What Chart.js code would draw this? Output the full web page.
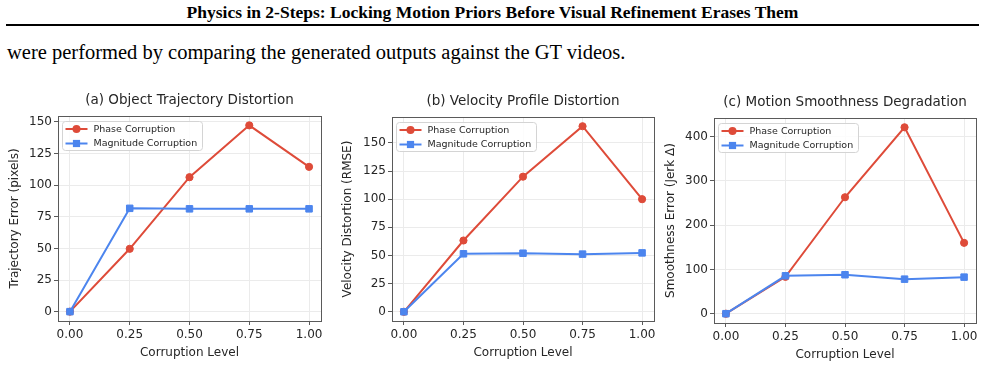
<!DOCTYPE html>
<html>
<head>
<meta charset="utf-8">
<script src="https://cdn.jsdelivr.net/npm/chart.js@4.4.1/dist/chart.umd.min.js"></script>
<style>
  html, body { margin: 0; padding: 0; background: #fff; }
  body { width: 985px; height: 377px; position: relative; overflow: hidden; }
  .running-head {
    position: absolute; left: 0; top: 2px; width: 985px; text-align: center;
    font: bold 17.5px "Liberation Serif", serif; line-height: 20px; color: #000;
  }
  .head-rule { position: absolute; left: 6px; top: 24px; width: 973px; height: 2px; background: #000; }
  .body-line {
    position: absolute; left: 7px; top: 41px; white-space: nowrap;
    font: 20.5px "Liberation Serif", serif; line-height: 23px; color: #000;
  }
  canvas { position: absolute; }
</style>
</head>
<body>
<div class="running-head">Physics in 2-Steps: Locking Motion Priors Before Visual Refinement Erases Them</div>
<div class="head-rule"></div>
<div class="body-line">were performed by comparing the generated outputs against the GT videos.</div>

<canvas id="chart-traj"></canvas>
<canvas id="chart-vel"></canvas>
<canvas id="chart-smooth"></canvas>

<script>
/* =========================================
   DATA
   ========================================= */
const corruptionLevels = [0, 0.25, 0.5, 0.75, 1.0];
const xTickValues = [0, 0.25, 0.5, 0.75, 1.0];
const seriesLabels = ['Phase Corruption', 'Magnitude Corruption'];

const trajPhase = [0, 49.7, 106.3, 147.3, 114.5];
const trajMagnitude = [0, 81.7, 81.3, 81.3, 81.3];
const trajTicks = [0, 25, 50, 75, 100, 125, 150];

const velPhase = [0, 63.3, 120, 164.8, 100];
const velMagnitude = [0, 51.5, 52, 51.2, 52.3];
const velTicks = [0, 25, 50, 75, 100, 125, 150];

const smoothPhase = [0, 83.3, 263, 421, 160];
const smoothMagnitude = [0, 85.6, 88, 78, 82.6];
const smoothTicks = [0, 100, 200, 300, 400];

/* =========================================
   STYLE
   ========================================= */
const FONT = '"DejaVu Sans", sans-serif';
const TEXT_COLOR = '#262626';
const FRAME_COLOR = '#5a5a5a';
const GRID_COLOR = '#ebebeb';
const PHASE_COLOR = '#de4b39';
const MAGNITUDE_COLOR = '#4c85ee';
const X_AXIS_H = 39;

// kotak legend + bingkai 4 sisi ala matplotlib
const frameAndLegend = {
    id: 'frameAndLegend',
    afterDraw(chart) {
        const { ctx, chartArea: a } = chart;
        ctx.save();
        ctx.strokeStyle = FRAME_COLOR;
        ctx.lineWidth = 1;
        ctx.strokeRect(Math.round(a.left) + 0.5, Math.round(a.top) + 0.5,
            Math.round(a.right - a.left), Math.round(a.bottom - a.top));

        ctx.font = '9.5px ' + FONT;
        const sets = chart.data.datasets;
        const textW = Math.max(...sets.map(d => ctx.measureText(d.label).width));
        const bx = Math.round(a.left) + 4.5;
        const by = Math.round(a.top) + 5.5;
        const bw = Math.round(31 + textW + 5);
        const bh = 29;

        ctx.beginPath();
        ctx.roundRect(bx, by, bw, bh, 3);
        ctx.fillStyle = 'rgba(255,255,255,0.85)';
        ctx.fill();
        ctx.strokeStyle = '#d4d4d4';
        ctx.stroke();

        sets.forEach((d, i) => {
            const y = by + 7.5 + i * 14.5;
            ctx.strokeStyle = d.borderColor;
            ctx.lineWidth = 2;
            ctx.beginPath();
            ctx.moveTo(bx + 3, y);
            ctx.lineTo(bx + 25, y);
            ctx.stroke();
            ctx.fillStyle = d.borderColor;
            ctx.beginPath();
            if (d.pointStyle === 'rect') {
                ctx.rect(bx + 14 - 3.6, y - 3.6, 7.2, 7.2);
            } else {
                ctx.arc(bx + 14, y, 4, 0, Math.PI * 2);
            }
            ctx.fill();
            ctx.fillStyle = TEXT_COLOR;
            ctx.textBaseline = 'middle';
            ctx.textAlign = 'left';
            ctx.fillText(d.label, bx + 31, y + 0.5);
        });
        ctx.restore();
    }
};

function toPoints(values) {
    return corruptionLevels.map((x, i) => ({ x: x, y: values[i] }));
}

function makeDataset(label, values, color, style, order) {
    return {
        label: label,
        data: toPoints(values),
        borderColor: color,
        backgroundColor: color,
        pointBackgroundColor: color,
        pointBorderColor: color,
        pointBorderWidth: 1,
        borderWidth: 2,
        pointStyle: style,
        pointRadius: style === 'rect' ? 4.6 : 3.6,
        tension: 0,
        order: order
    };
}

/* =========================================
   CHART BUILDER
   ========================================= */
function buildPanel(spec) {
    const canvas = document.getElementById(spec.id);
    const areaH = spec.areaBottom - spec.areaTop;
    const width = spec.areaRight + 9 - spec.left;
    const height = 32 + areaH + X_AXIS_H;
    canvas.width = width;
    canvas.height = height;
    canvas.style.left = spec.left + 'px';
    canvas.style.top = (spec.areaTop - 32) + 'px';

    return new Chart(canvas, {
        type: 'line',
        data: {
            datasets: [
                makeDataset(seriesLabels[0], spec.phase, PHASE_COLOR, 'circle', 1),
                makeDataset(seriesLabels[1], spec.magnitude, MAGNITUDE_COLOR, 'rect', 0)
            ]
        },
        options: {
            responsive: false,
            animation: false,
            devicePixelRatio: 1,
            events: [],
            layout: { padding: { left: 0, right: 9, top: 0, bottom: 0 } },
            plugins: {
                legend: { display: false },
                tooltip: { enabled: false },
                title: {
                    display: true,
                    text: spec.title,
                    fullSize: false,
                    color: TEXT_COLOR,
                    font: { family: FONT, size: 13.5, weight: 'normal' },
                    padding: { top: 8, bottom: 7.8 }
                }
            },
            scales: {
                x: {
                    type: 'linear',
                    min: -0.05,
                    max: 1.05,
                    afterBuildTicks: s => { s.ticks = xTickValues.map(v => ({ value: v })); },
                    afterFit: s => { s.height = X_AXIS_H; },
                    ticks: {
                        color: TEXT_COLOR,
                        font: { family: FONT, size: 12 },
                        padding: 3,
                        maxRotation: 0,
                        callback: v => v.toFixed(2)
                    },
                    grid: { color: GRID_COLOR, tickColor: FRAME_COLOR, tickLength: 4 },
                    border: { display: false },
                    title: {
                        display: true,
                        text: 'Corruption Level',
                        color: TEXT_COLOR,
                        font: { family: FONT, size: 12 },
                        padding: { top: 0, bottom: 0 }
                    }
                },
                y: {
                    type: 'linear',
                    min: spec.yMin,
                    max: spec.yMax,
                    afterBuildTicks: s => { s.ticks = spec.yTicks.map(v => ({ value: v })); },
                    afterFit: s => { s.width = spec.yAxisW; },
                    ticks: {
                        color: TEXT_COLOR,
                        font: { family: FONT, size: 12 },
                        padding: 2,
                        callback: v => String(v)
                    },
                    grid: { color: GRID_COLOR, tickColor: FRAME_COLOR, tickLength: 4 },
                    border: { display: false },
                    title: {
                        display: true,
                        text: spec.yTitle,
                        color: TEXT_COLOR,
                        font: { family: FONT, size: 12 },
                        padding: { top: spec.yTitlePad, bottom: 0 }
                    }
                }
            }
        },
        plugins: [frameAndLegend]
    });
}

/* =========================================
   INIT
   ========================================= */
document.addEventListener('DOMContentLoaded', function() {
    buildPanel({
        id: 'chart-traj', title: '(a) Object Trajectory Distortion',
        yTitle: 'Trajectory Error (pixels)',
        phase: trajPhase, magnitude: trajMagnitude, yTicks: trajTicks,
        yMin: -7.4, yMax: 154.7,
        left: 0, yAxisW: 58, yTitlePad: 8, areaRight: 321, areaTop: 116, areaBottom: 321
    });
    buildPanel({
        id: 'chart-vel', title: '(b) Velocity Profile Distortion',
        yTitle: 'Velocity Distortion (RMSE)',
        phase: velPhase, magnitude: velMagnitude, yTicks: velTicks,
        yMin: -8.2, yMax: 173,
        left: 333, yAxisW: 59, yTitlePad: 8, areaRight: 654, areaTop: 117, areaBottom: 321
    });
    buildPanel({
        id: 'chart-smooth', title: '(c) Motion Smoothness Degradation',
        yTitle: 'Smoothness Error (Jerk \u0394)',
        phase: smoothPhase, magnitude: smoothMagnitude, yTicks: smoothTicks,
        yMin: -21, yMax: 442,
        left: 660, yAxisW: 54, yTitlePad: 4, areaRight: 976, areaTop: 118, areaBottom: 323
    });
});
</script>
</body>
</html>
